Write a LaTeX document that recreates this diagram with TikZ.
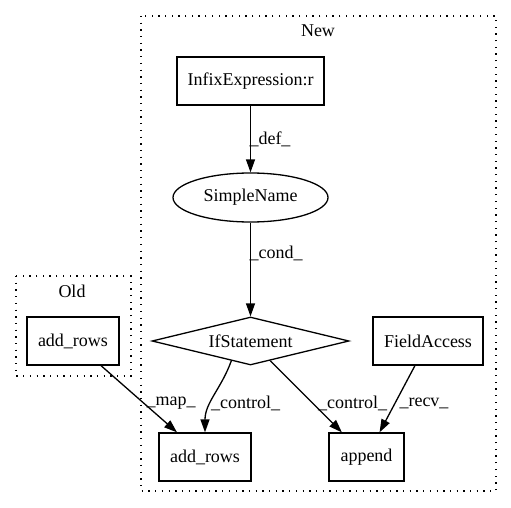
\documentclass[tikz,border=0pt]{standalone}
\usepackage{fontspec}
\setmainfont{Liberation Serif}
\usetikzlibrary{shapes.geometric,arrows.meta}
\begin{document}
\begin{tikzpicture}[x=1pt,y=1pt,
  every node/.style={font=\fontsize{18}{20}\selectfont},
  box/.style={draw,line width=1.3pt,rectangle,minimum height=48pt,inner sep=2pt},
  oval/.style={draw,line width=1.3pt,ellipse,minimum width=155pt,minimum height=49pt,inner sep=1pt},
  decision/.style={draw,line width=1.3pt,diamond,aspect=4.1,minimum width=197pt,minimum height=48pt,inner sep=1pt},
  flow/.style={line width=1.3pt,-{Triangle[length=13pt,width=9pt]}},
  cluster/.style={draw,line width=1.3pt,dash pattern=on 1.3pt off 5.4pt},
  lbl/.style={inner sep=0pt}]
\useasboundingbox (0,0) rectangle (511,-508);
% clusters
\draw[cluster] (141,-16) rectangle (496,-491);
\node[lbl] (newlbl) at (318,-31) {New};
\draw[cluster] (16,-276) rectangle (131,-376);
\node[lbl] (oldlbl) at (72,-291) {Old};
% nodes
\node[box,minimum width=147pt] (infix) at (250.5,-81) {InfixExpression:r};
\node[oval] (simple) at (250.5,-197.5) {SimpleName};
\node[decision] (ifst) at (250.5,-341) {IfStatement};
\node[box,minimum width=110pt] (fa) at (428,-341) {FieldAccess};
\node[box,minimum width=92pt] (oldadd) at (73,-341) {add\_rows};
\node[box,minimum width=92pt] (newadd) at (205,-457) {add\_rows};
\node[box,minimum width=75pt] (append) at (366.5,-457) {append};
% edges
\draw[flow] (infix) -- (simple);
\draw[flow] (simple) -- (ifst);
\draw[flow] (ifst.226) to[out=250,in=90] (newadd.north);
\draw[flow] (ifst) -- (append);
\draw[flow] (fa) -- (append);
\draw[flow] (oldadd) -- (newadd);
% edge labels
\node[lbl] (ldef) at (270,-139) {\_def\_};
\node[lbl] (lcond) at (276,-253) {\_cond\_};
\node[lbl] (lmap) at (171,-403) {\_map\_};
\node[lbl] (lctl1) at (245.5,-403) {\_control\_};
\node[lbl] (lctl2) at (352.5,-403) {\_control\_};
\node[lbl] (lrecv) at (424,-403) {\_recv\_};
\end{tikzpicture}
\end{document}
